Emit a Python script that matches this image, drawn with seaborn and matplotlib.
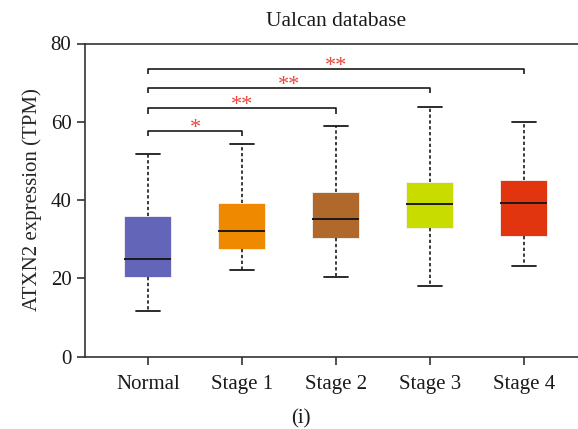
import numpy as np
import pandas as pd
import matplotlib
matplotlib.use("Agg")
import matplotlib.pyplot as plt
import seaborn as sns

# ---- data ----
categories = ["Normal", "Stage 1", "Stage 2", "Stage 3", "Stage 4"]
mins    = [11.7, 22.0, 20.4, 18.1, 23.1]
q1s     = [20.3, 27.5, 30.4, 32.8, 30.8]
medians = [25.0, 32.2, 35.1, 38.9, 39.2]
q3s     = [35.8, 39.2, 42.1, 44.6, 45.1]
maxs    = [51.8, 54.3, 59.0, 63.8, 59.9]
colors  = ["#6366b8", "#ef8a00", "#b0692b", "#c8dc00", "#e0350f"]

# significance brackets: Normal vs each stage
bracket_targets = ["Stage 1", "Stage 2", "Stage 3", "Stage 4"]
bracket_heights = [57.7, 63.5, 68.7, 73.6]
bracket_labels  = ["*", "**", "**", "**"]

yticks = [0, 20, 40, 60, 80]

# five-number summaries as long-form data (percentiles of 5 points reproduce them)
rows = []
for c, a, b, m, d, e in zip(categories, mins, q1s, medians, q3s, maxs):
    for v in (a, b, m, d, e):
        rows.append({"group": c, "value": v})
df = pd.DataFrame(rows)

sns.set_style("white")
plt.rcParams["font.family"] = ["Liberation Serif", "DejaVu Serif"]

fig = plt.figure(figsize=(5.78, 4.29), dpi=100)
ax = fig.add_axes([85.3 / 578, 72.4 / 429, (580 - 85.3) / 578, (356.6 - 43.5) / 429])

sns.boxplot(data=df, x="group", y="value", order=categories, hue="group",
            hue_order=categories, palette=colors, legend=False,
            whis=(0, 100), showfliers=False, width=0.5, saturation=1,
            linecolor="#1a1a1a", linewidth=1.2,
            whiskerprops=dict(linestyle=(0, (2.0, 1.5)), linewidth=1.2),
            capprops=dict(linestyle="-", linewidth=1.3),
            medianprops=dict(color="#1a1a1a", linewidth=1.4),
            ax=ax)

for patch in ax.patches:
    patch.set_edgecolor("#f4f4f4")
    patch.set_linewidth(0.6)

# brackets
drop = 1.4
x0 = categories.index("Normal")
for tgt, h, lab in zip(bracket_targets, bracket_heights, bracket_labels):
    x1 = categories.index(tgt)
    ax.plot([x0, x0, x1, x1], [h - drop, h, h, h - drop], color="#1a1a1a",
            lw=1.2, solid_capstyle="butt", clip_on=False)
    ax.text((x0 + x1) / 2, h - 0.5, lab, ha="center", va="baseline",
            color="#e8473a", fontsize=16)

ax.set_xlim(-0.667, 4.596)
ax.set_ylim(0, 80)
ax.set_yticks(yticks)
ax.set_xlabel("")
ax.set_ylabel("ATXN2 expression (TPM)", fontsize=15, labelpad=6)

for s in ["left", "bottom", "top"]:
    ax.spines[s].set_visible(True)
    ax.spines[s].set_color("#333333")
    ax.spines[s].set_linewidth(1.2)
ax.spines["right"].set_visible(False)

ax.tick_params(axis="both", which="both", direction="out", length=6,
               width=1.2, color="#333333", labelsize=15, labelcolor="#1a1a1a")
ax.tick_params(axis="x", pad=7, bottom=True)
ax.tick_params(axis="y", pad=4, left=True)

fig.text(336 / 578, 1 - 22 / 429, "Ualcan database", ha="center", va="center",
         fontsize=15.5, color="#1a1a1a")
fig.text(301 / 578, 1 - 419 / 429, "(i)", ha="center", va="center",
         fontsize=15, color="#1a1a1a")

fig.savefig("out.png", dpi=100)
